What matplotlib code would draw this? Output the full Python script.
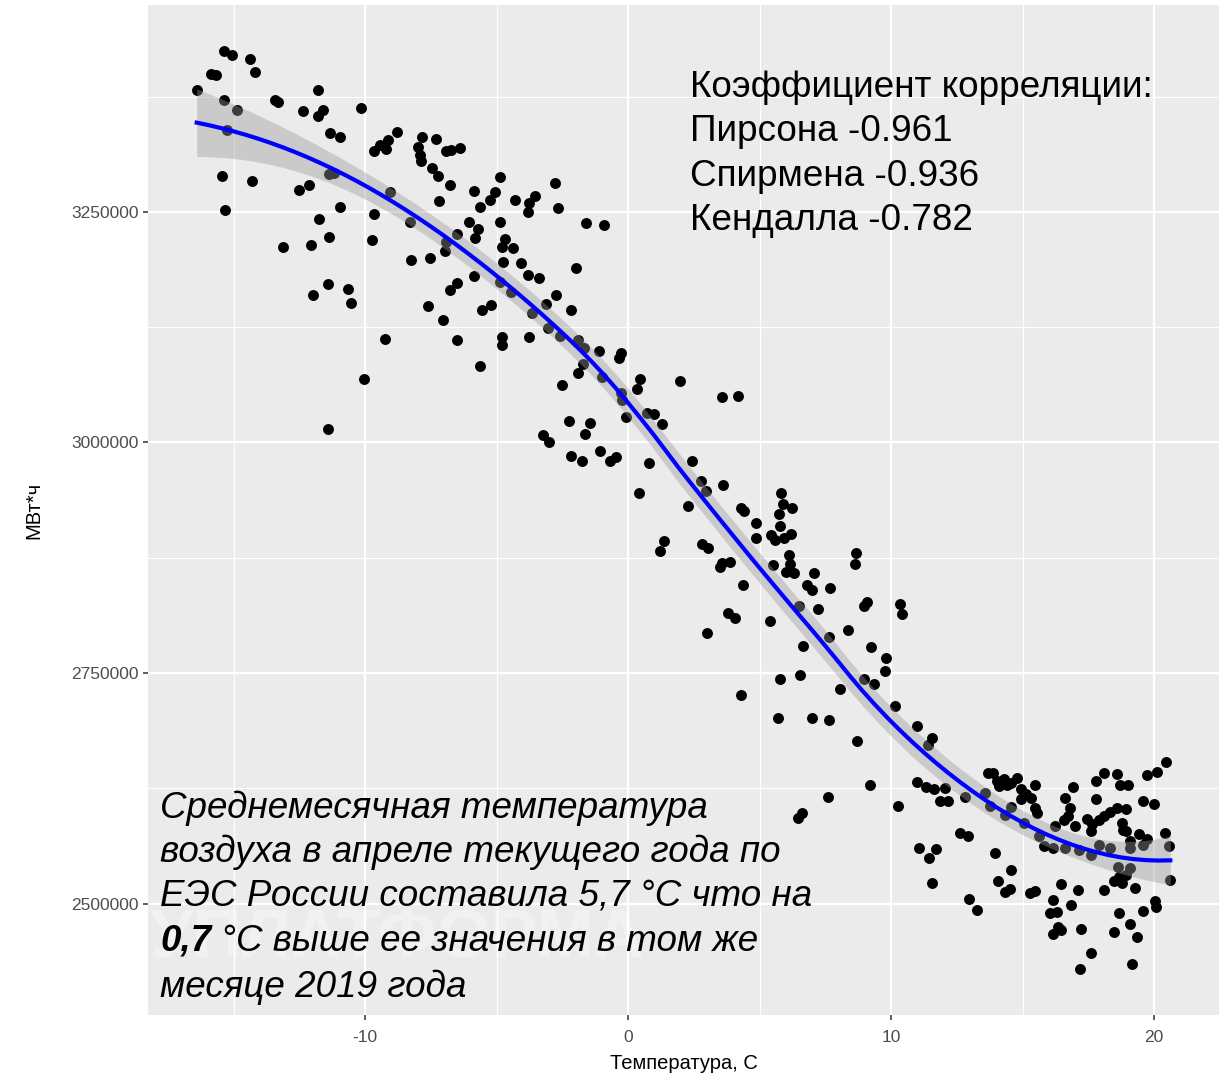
import numpy as np
import matplotlib
matplotlib.use("Agg")
import matplotlib.pyplot as plt

plt.rcParams['font.family'] = ['Liberation Sans', 'DejaVu Sans']

# Среднесуточная температура (C) и потребление (МВт*ч)
temp = [
    -16.41, -15.36, -15.06, -14.37, -14.20, -15.86, -15.67, -15.39, -14.89, -15.27,
    -15.46, -14.30, -15.33, -13.43, -13.32, -12.36, -11.81, -11.61, -11.81, -11.35,
    -10.95, -10.15, -11.38, -11.17, -12.50, -12.12, -10.95, -11.74, -11.37, -12.08,
    -13.12, -9.66, -9.73, -11.42, -11.97, -10.67, -10.55, -9.25, -10.04, -11.43,
    -9.07, -9.67, -9.45, -9.14, -8.81, -9.20, -8.31, -8.26, -7.53, -7.83,
    -7.30, -7.98, -7.90, -7.86, -7.45, -7.23, -6.94, -6.73, -6.41, -6.79,
    -7.20, -6.92, -6.98, -6.51, -6.05, -5.71, -5.84, -5.86, -5.65, -5.27,
    -5.08, -5.86, -6.50, -6.79, -7.63, -7.04, -6.50, -5.55, -5.20, -5.65,
    -4.87, -4.30, -3.79, -3.54, -3.82, -2.77, -2.67, -1.59, -0.93, -4.87,
    -4.68, -4.81, -4.39, -4.77, -4.08, -3.82, -3.38, -1.98, -4.87, -4.47,
    -3.66, -3.13, -2.75, -2.17, -3.05, -2.58, -4.81, -4.81, -3.77, -1.91,
    -1.67, -1.12, -0.29, -0.36, -1.72, -1.92, -0.99, -2.52, 0.45, 0.32,
    1.97, -0.29, -0.23, -0.10, 0.70, 0.98, 1.27, 3.56, 4.16, -2.24,
    -1.46, -3.22, -3.00, -1.63, -2.17, -1.76, -1.08, -0.70, -0.48, 0.79,
    0.41, 2.44, 2.76, 2.95, 3.61, 2.29, 4.29, 4.39, 4.86, 4.86,
    1.36, 1.20, 2.79, 3.02, 3.56, 3.87, 3.50, 4.38, 3.78, 4.07,
    2.98, 4.29,
    5.82, 5.88, 6.23, 5.73, 5.78, 6.20, 5.91, 5.44, 5.57, 6.11,
    6.17, 6.32, 6.01, 5.50, 7.08, 6.80, 6.98, 7.68, 6.51, 7.23,
    5.38, 8.65, 8.63, 9.09, 8.97, 8.38, 7.62, 6.64, 9.24, 9.79,
    9.75, 10.33, 10.42, 5.79, 6.54, 8.06, 8.97, 9.35, 10.16, 5.69,
    6.99, 7.64, 8.69, 11.00, 11.55, 11.42, 9.19, 7.59, 6.61, 6.45,
    10.26, 10.98, 11.34, 11.64, 12.05, 11.86, 12.15, 12.81, 13.56, 13.69,
    13.88, 13.75, 14.32, 14.57, 12.62, 12.93, 11.05, 11.70, 11.46, 11.55,
    13.97, 14.57, 14.07, 14.32, 14.53, 12.96, 13.25,
    14.02, 14.29, 14.56, 14.79, 14.10, 14.41, 14.94, 14.94,
    20.46, 20.12, 19.72, 18.09, 17.81, 18.58, 18.70, 19.01, 16.91, 15.46,
    15.12, 15.31, 16.60, 17.78, 19.57, 20.00, 15.49, 15.56, 16.79, 16.73,
    16.58, 18.58, 18.95, 18.33, 18.09, 17.90, 17.47, 17.65, 16.98, 18.77,
    18.83, 18.93, 16.23, 17.59, 19.44, 19.75, 20.40, 20.56, 15.05, 15.62,
    15.80, 16.17, 16.60, 17.16, 17.59, 17.90, 18.33, 19.07, 19.07, 19.57,
    18.64, 19.07, 18.95, 18.68, 18.46, 18.77, 20.62, 19.26, 18.09, 16.48,
    17.12, 15.27, 15.47, 16.17, 16.83, 16.05, 16.30, 16.36, 16.46, 16.17,
    17.22, 18.68, 19.07, 19.35, 18.49, 19.59, 20.04, 20.06, 17.62, 17.20,
    19.17,
]
mwh = [
    3382600, 3424500, 3420500, 3416200, 3401400, 3399200, 3398100, 3371000, 3360200, 3338500,
    3289000, 3284000, 3251800, 3371800, 3369200, 3359100, 3382200, 3360900, 3354000, 3335600,
    3330900, 3362700, 3290800, 3292600, 3274200, 3278900, 3255400, 3242100, 3222500, 3213900,
    3212100, 3248200, 3219700, 3172300, 3159700, 3166900, 3151700, 3112700, 3068600, 3014100,
    3271700, 3316100, 3322300, 3328400, 3336700, 3318600, 3239200, 3197600, 3199800, 3331300,
    3329500, 3320400, 3312100, 3304900, 3297700, 3288700, 3315800, 3316800, 3319700, 3278900,
    3261900, 3217500, 3207400, 3226500, 3239200, 3231900, 3221800, 3272400, 3255400, 3262600,
    3271700, 3180600, 3173400, 3165100, 3147800, 3133300, 3110900, 3143400, 3148800, 3083100,
    3287400, 3263300, 3259700, 3266900, 3249600, 3280900, 3254000, 3238100, 3236000, 3238900,
    3220900, 3211900, 3210800, 3195800, 3195000, 3182100, 3177800, 3189300, 3174200, 3163400,
    3140800, 3149800, 3159800, 3144000, 3123900, 3114900, 3113900, 3105200, 3114200, 3111300,
    3102400, 3098800, 3097000, 3091600, 3085100, 3075400, 3070800, 3061800, 3069300, 3057500,
    3066500, 3053900, 3045600, 3027700, 3032300, 3031300, 3019700, 3049200, 3050300, 3023300,
    3021600, 3008300, 3000700, 3009000, 2984900, 2980200, 2990300, 2980200, 2983800, 2977400,
    2945400, 2979500, 2958700, 2947900, 2954400, 2931000, 2928900, 2925700, 2913100, 2896900,
    2892900, 2882200, 2890400, 2886100, 2868900, 2870000, 2864600, 2845500, 2815000, 2809600,
    2793500, 2726300,
    2945600, 2932900, 2929300, 2922100, 2909400, 2901000, 2896700, 2899900, 2894500, 2878200,
    2868000, 2858300, 2860000, 2867700, 2858300, 2845600, 2840200, 2842400, 2822500, 2820000,
    2806900, 2880400, 2868700, 2827600, 2822900, 2797200, 2789000, 2779900, 2778100, 2766500,
    2752700, 2825400, 2814500, 2743800, 2747500, 2733000, 2743800, 2738000, 2713800, 2701800,
    2701800, 2699300, 2676400, 2692800, 2680100, 2672100, 2628600, 2615900, 2597800, 2592400,
    2605800, 2632200, 2626100, 2624300, 2625700, 2611200, 2611200, 2615900, 2619500, 2641200,
    2641200, 2606100, 2596000, 2604300, 2577100, 2573500, 2560000, 2559700, 2549900, 2522700,
    2555000, 2536900, 2524200, 2512600, 2515500, 2505300, 2493700,
    2632800, 2634900, 2630600, 2636000, 2627400, 2628500, 2624200, 2613400,
    2654100, 2642800, 2639200, 2642100, 2633000, 2640300, 2628300, 2628300, 2626800, 2628300,
    2618500, 2614800, 2614800, 2613000, 2611200, 2607600, 2603900, 2598500, 2603900, 2594800,
    2591200, 2603900, 2602800, 2599200, 2594800, 2591200, 2591900, 2586800, 2584700, 2587600,
    2580300, 2578500, 2583900, 2578500, 2575600, 2570100, 2576700, 2562100, 2588000, 2573000,
    2562900, 2560300, 2560300, 2558500, 2553100, 2564000, 2560300, 2560300, 2567600, 2564000,
    2540300, 2539200, 2531200, 2528700, 2524700, 2522900, 2525800, 2516700, 2514900, 2521500,
    2514900, 2512000, 2514200, 2504000, 2498200, 2489500, 2491300, 2474200, 2472000, 2467600,
    2473100, 2490200, 2477800, 2464000, 2469100, 2492400, 2502900, 2496000, 2446900, 2429100,
    2434900,
]

corr_lines = ["Коэффициент корреляции:", "Пирсона -0.961", "Спирмена -0.936", "Кендалла -0.782"]
note_lines = ["Среднемесячная температура",
              "воздуха в апреле текущего года по",
              "ЕЭС России составила 5,7 °C что на",
              None,
              "месяце 2019 года"]
note_bold = "0,7"
note_rest = " °C выше ее значения в том же"

x_major = [-10, 0, 10, 20]
x_minor = [-15, -5, 5, 15]
y_major = [2500000, 2750000, 3000000, 3250000]
y_minor = [2625000, 2875000, 3125000, 3375000]


# локальная регрессия (loess, степень 2) с доверительным интервалом 95%
def loess(x, y, x_new, span=0.75):
    n = len(x)
    q = int(np.floor(n * span))

    def hat_row(x0):
        d = np.abs(x - x0)
        h = np.sort(d)[q - 1]
        w = np.clip(1 - (d / h) ** 3, 0, None) ** 3
        X = np.column_stack([np.ones(n), x - x0, (x - x0) ** 2])
        XtW = X.T * w
        return np.linalg.solve(XtW @ X, XtW)[0]

    L = np.array([hat_row(v) for v in x])
    resid = y - L @ y
    M = np.eye(n) - L
    delta1 = np.trace(M.T @ M)
    sigma = np.sqrt(resid @ resid / delta1)
    Ln = np.array([hat_row(v) for v in x_new])
    fit = Ln @ y
    se = sigma * np.sqrt((Ln ** 2).sum(axis=1))
    return fit, se


x = np.array(temp, dtype=float)
y = np.array(mwh, dtype=float)
xs = np.linspace(x.min(), x.max(), 80)
fit, se = loess(x, y, xs)

fig = plt.figure(figsize=(12.23, 10.83), dpi=100)
ax = fig.add_axes([148 / 1223, 1 - 1015 / 1083, 1071 / 1223, 1010 / 1083])
ax.set_facecolor('#EBEBEB')
for s in ax.spines.values():
    s.set_visible(False)

xr = x.max() - x.min()
yr = y.max() - y.min()
ax.set_xlim(x.min() - 0.05 * xr, x.max() + 0.05 * xr)
ax.set_ylim(y.min() - 0.05 * yr, y.max() + 0.05 * yr)

ax.set_xticks(x_major)
ax.set_xticks(x_minor, minor=True)
ax.set_yticks(y_major)
ax.set_yticks(y_minor, minor=True)
ax.set_xticklabels([str(v) for v in x_major])
ax.set_yticklabels([str(v) for v in y_major])
ax.grid(which='major', color='white', lw=1.6)
ax.grid(which='minor', color='white', lw=0.8)
ax.set_axisbelow(True)
ax.tick_params(which='major', length=3.5, width=1.1, color='#333333',
               labelcolor='#4D4D4D', labelsize=12.5, pad=3)
ax.tick_params(axis='x', which='major', pad=7)
ax.tick_params(which='minor', length=0)

ax.text(0.002, 0.075, "УПЛАТФОРМА", transform=ax.transAxes, fontsize=50,
        fontweight='bold', color='white', alpha=0.35, va='center', ha='left',
        zorder=1, clip_on=True)

ax.scatter(x, y, s=62, color='black', linewidths=0, zorder=2)
ax.fill_between(xs, fit - 1.97 * se, fit + 1.97 * se, color='#999999',
                alpha=0.4, linewidth=0, zorder=3)
ax.plot(xs, fit, color='#0000FF', lw=3, zorder=4)

ax.set_xlabel("Температура, C", fontsize=14.5, labelpad=7)
ax.set_ylabel("МВт*ч", fontsize=14.5, labelpad=20)


def px_y(p):
    return (1015 - p) / 1010


def px_x(p):
    return (p - 148) / 1071


for line, b in zip(corr_lines, [97, 141, 186, 230]):
    ax.text(px_x(690), px_y(b), line, transform=ax.transAxes, fontsize=26.6,
            va='baseline', ha='left', zorder=5)

for line, b in zip(note_lines, [818, 862, 906, 951, 997]):
    if line is None:
        t = ax.text(px_x(160), px_y(b), note_bold, transform=ax.transAxes,
                    fontsize=26.5, style='italic', fontweight='bold',
                    va='baseline', ha='left', zorder=5)
        ax.annotate(note_rest, xy=(1, 0), xycoords=t, fontsize=26.5,
                    style='italic', va='bottom', ha='left', zorder=5)
    else:
        ax.text(px_x(160), px_y(b), line, transform=ax.transAxes, fontsize=26.5,
                style='italic', va='baseline', ha='left', zorder=5)

fig.savefig("out.png", dpi=100, facecolor='white')
